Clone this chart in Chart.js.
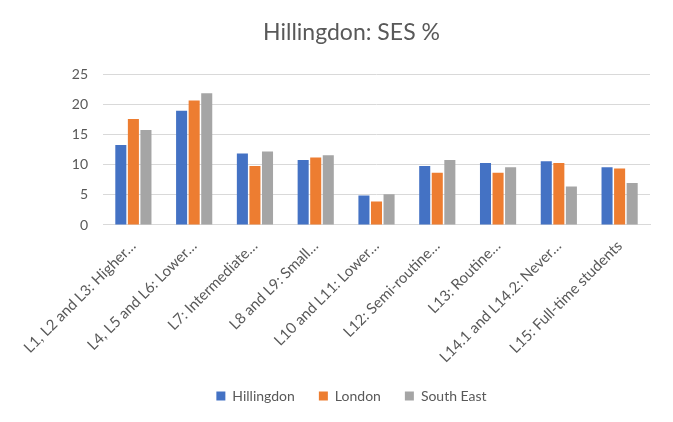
<!DOCTYPE html>
<html>
<head>
<meta charset="UTF-8" />
<script src="https://cdn.jsdelivr.net/npm/chart.js@4.4.1/dist/chart.umd.min.js"></script>
<style>
  html, body { margin: 0; padding: 0; background: #fff; }
  #wrap { width: 673px; height: 422px; position: relative; }
</style>
</head>
<body>
<div id="wrap"><canvas id="chart"></canvas></div>
<script>
// values
const categories = [
  "L1, L2 and L3: Higher…",
  "L4, L5 and L6: Lower…",
  "L7: Intermediate…",
  "L8 and L9: Small…",
  "L10 and L11: Lower…",
  "L12: Semi-routine…",
  "L13: Routine…",
  "L14.1 and L14.2: Never…",
  "L15: Full-time students",
];
const hillingdon = [13.3, 19.0, 11.9, 10.8, 4.9, 9.8, 10.3, 10.6, 9.6];
const london = [17.6, 20.7, 9.8, 11.2, 3.9, 8.7, 8.7, 10.3, 9.4];
const southEast = [15.8, 21.9, 12.2, 11.6, 5.1, 10.8, 9.6, 6.4, 7.0];
const yTicks = [0, 5, 10, 15, 20, 25];

const textGray = "#595959";
const font = "Lato, 'Open Sans', sans-serif";

new Chart(document.getElementById("chart"), {
  type: "bar",
  data: {
    labels: categories,
    datasets: [
      { label: "Hillingdon", data: hillingdon, backgroundColor: "#4472C4" },
      { label: "London", data: london, backgroundColor: "#ED7D31" },
      { label: "South East", data: southEast, backgroundColor: "#A5A5A5" },
    ],
  },
  options: {
    responsive: true,
    maintainAspectRatio: false,
    animation: false,
    categoryPercentage: 0.62,
    barPercentage: 0.88,
    layout: { padding: { left: 53, right: 23, top: 19, bottom: 9 } },
    plugins: {
      title: {
        display: true,
        text: "Hillingdon: SES %",
        color: textGray,
        font: { family: font, size: 23, weight: "normal" },
        padding: { top: 0, bottom: 28 },
      },
      legend: {
        position: "bottom",
        labels: {
          color: textGray,
          font: { family: font, size: 14 },
          boxWidth: 9,
          boxHeight: 9,
          padding: 24,
        },
      },
      tooltip: { enabled: false },
    },
    scales: {
      x: {
        afterFit: (s) => { s.height = 140; },
        grid: { display: false },
        border: { color: "#d9d9d9" },
        ticks: {
          color: textGray,
          font: { family: font, size: 15 },
          minRotation: 45,
          maxRotation: 45,
          autoSkip: false,
          padding: 4,
        },
      },
      y: {
        min: 0,
        max: 25,
        afterFit: (s) => { s.width = 50; },
        afterBuildTicks: (s) => { s.ticks = yTicks.map((v) => ({ value: v })); },
        grid: { color: "#d9d9d9", drawTicks: false },
        border: { display: false },
        ticks: {
          color: textGray,
          font: { family: font, size: 14 },
          padding: 15,
        },
      },
    },
  },
});
</script>
</body>
</html>
